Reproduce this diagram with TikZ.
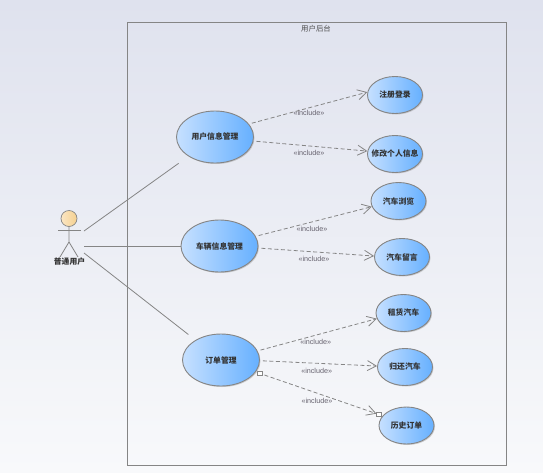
\documentclass[tikz,border=0pt]{standalone}
\usepackage{fontspec}
\usepackage{xcolor}
\usetikzlibrary{shapes.geometric, arrows.meta, shadows}
\setmainfont{Liberation Sans}
\newfontfamily\cjk{Noto Sans CJK SC}
\definecolor{bg-top}{HTML}{DFE2EE}
\definecolor{bg-bottom}{HTML}{F8F9FB}
\definecolor{case-light}{HTML}{C6E0FF}
\definecolor{case-dark}{HTML}{66B0FF}
\definecolor{edge-gray}{HTML}{858585}
\definecolor{label-gray}{HTML}{66626E}
\definecolor{head-light}{HTML}{FBE6C4}
\definecolor{head-dark}{HTML}{F5D08F}
\tikzset{
  bigcase/.style={ellipse, draw=edge-gray, line width=0.9pt, inner xsep=-8pt, inner ysep=0pt,
    minimum width=77pt, minimum height=52pt, left color=case-light, right color=case-dark,
    drop shadow={shadow xshift=1pt, shadow yshift=-1pt, opacity=0.35},
    font=\cjk\bfseries\fontsize{7.8}{9}\selectfont, text=black!80},
  smallcase/.style={bigcase, minimum width=55pt, minimum height=37pt},
  includeline/.style={draw=edge-gray, line width=0.8pt, dash pattern=on 4pt off 2.5pt,
    -{Straight Barb[length=9pt, width=10pt]}, shorten <=3pt},
  assocline/.style={draw=edge-gray, line width=0.8pt},
  includetag/.style={font=\fontsize{7.2}{8}\selectfont, text=label-gray, inner sep=0pt},
  portbox/.style={draw=edge-gray, fill=white, minimum size=4.5pt, inner sep=0pt, line width=0.6pt},
}
\begin{document}
\begin{tikzpicture}[x=1pt, y=-1pt]
  \useasboundingbox (0,0) rectangle (543,472);
  \shade[top color=bg-top, bottom color=bg-bottom] (0,0) rectangle (543,472);

  % system boundary
  \node[draw=edge-gray, line width=0.9pt, minimum width=378.5pt, minimum height=443pt, inner sep=0pt] (frame) at (316.75,243.5) {};
  \node[font=\cjk\fontsize{7.4}{9}\selectfont, text=black!70, inner sep=0pt] (title) at (316,29) {用户后台};

  % actor
  \node[circle, draw=edge-gray, line width=0.7pt, minimum size=16pt, inner sep=0pt,
        left color=head-light, right color=head-dark] (head) at (69,218.5) {};
  \coordinate (armL) at (58,230);
  \coordinate (armR) at (81,230);
  \coordinate (hip) at (69,242);
  \coordinate (footL) at (60,257);
  \coordinate (footR) at (78,257);
  \draw[assocline] (head) -- (hip) -- (footL);
  \draw[assocline] (hip) -- (footR);
  \draw[assocline] (armL) -- (armR);
  \node[font=\cjk\bfseries\fontsize{7.8}{9}\selectfont, text=black!80, inner sep=0pt] (actor) at (69.5,261.5) {普通用户};
  \coordinate (actorA) at (84,231);
  \coordinate (actorB) at (84,246);
  \coordinate (actorC) at (84,253);

  % use cases
  \node[bigcase] (userInfo) at (215,137) {用户信息管理};
  \node[bigcase] (carInfo) at (219.5,246) {车辆信息管理};
  \node[bigcase] (orderMgr) at (221,360) {订单管理};
  \node[smallcase] (login) at (395,95) {注册登录};
  \node[smallcase] (profile) at (395,154) {修改个人信息};
  \node[smallcase] (browse) at (398.5,201) {汽车浏览};
  \node[smallcase] (message) at (402,257) {汽车留言};
  \node[smallcase] (rent) at (403.5,313) {租赁汽车};
  \node[smallcase] (giveback) at (405,367) {归还汽车};
  \node[smallcase] (history) at (406.5,425.5) {历史订单};
  \node[portbox] (orderPort) at (260,373.5) {};
  \node[portbox] (historyPort) at (379,414.5) {};

  % associations
  \draw[assocline, shorten >=12pt] (actorA) -- (userInfo.216);
  \draw[assocline] (actorB) -- (carInfo.west);
  \draw[assocline, shorten >=9pt] (actorC) -- (orderMgr.142);

  % includes
  \draw[includeline] (userInfo.21) -- (login.174);
  \draw[includeline] (userInfo.-6) -- (profile.174);
  \draw[includeline] (carInfo.15) -- (browse.192);
  \draw[includeline] (carInfo.-3) -- (message.178);
  \draw[includeline] (orderMgr.14) -- (rent.192);
  \draw[includeline] (orderMgr.-1) -- (giveback.178);
  \draw[includeline, shorten <=2pt] (orderPort) -- (historyPort);

  \node[includetag] (tagA) at (309,113) {«include»};
  \node[includetag] (tagB) at (309,152.7) {«include»};
  \node[includetag] (tagC) at (312,228.7) {«include»};
  \node[includetag] (tagD) at (314,259) {«include»};
  \node[includetag] (tagE) at (315.7,342) {«include»};
  \node[includetag] (tagF) at (316.7,370.7) {«include»};
  \node[includetag] (tagG) at (317,401) {«include»};
\end{tikzpicture}
\end{document}
